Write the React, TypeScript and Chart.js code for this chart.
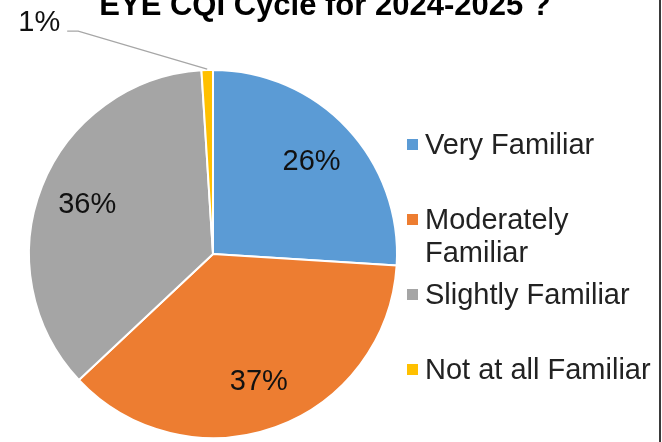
import React, { useEffect, useRef } from "react";
import { Chart, registerables } from "chart.js";

Chart.register(...registerables);

const titleText = "EYE CQI Cycle for 2024-2025 ?";
const categories = ["Very Familiar", "Moderately\nFamiliar", "Slightly Familiar", "Not at all Familiar"];
const percentValues = [26, 37, 36, 1];
const sliceColors = ["#5B9BD5", "#ED7D31", "#A5A5A5", "#FFC000"];

const FONT = "'Liberation Sans', Arial, sans-serif";

const decorPlugin = {
  id: "decor",
  afterDatasetsDraw(chart: any) {
    const ctx = chart.ctx;
    const meta = chart.getDatasetMeta(0);
    const data = chart.data.datasets[0].data as number[];
    ctx.save();
    // data labels
    ctx.font = `29px ${FONT}`;
    ctx.fillStyle = "#111";
    meta.data.forEach((arc: any, i: number) => {
      const { x, y, startAngle, endAngle, outerRadius } = arc.getProps(
        ["x", "y", "startAngle", "endAngle", "outerRadius"],
        true
      );
      const mid = (startAngle + endAngle) / 2;
      const txt = `${data[i]}%`;
      if (data[i] >= 5) {
        const r = outerRadius * 0.735;
        ctx.textAlign = "center";
        ctx.textBaseline = "middle";
        ctx.fillText(txt, x + Math.cos(mid) * r, y + Math.sin(mid) * r + 1);
      } else {
        const px = x + Math.cos(mid) * (outerRadius + 1);
        const py = y + Math.sin(mid) * (outerRadius + 1);
        const kx = px - 129;
        const ky = py - 38;
        ctx.strokeStyle = "#A6A6A6";
        ctx.lineWidth = 1.2;
        ctx.beginPath();
        ctx.moveTo(px, py);
        ctx.lineTo(kx, ky);
        ctx.lineTo(kx - 11, ky);
        ctx.stroke();
        ctx.textAlign = "right";
        ctx.textBaseline = "alphabetic";
        ctx.fillText(txt, kx - 18, ky);
      }
    });
    // title (partially cut at top)
    ctx.font = `bold 31px ${FONT}`;
    ctx.textAlign = "center";
    ctx.textBaseline = "alphabetic";
    ctx.fillStyle = "#000";
    ctx.fillText(titleText, 325, 15);
    // legend
    ctx.font = `29px ${FONT}`;
    ctx.textAlign = "left";
    (chart.data.labels as string[]).forEach((lab: string, i: number) => {
      const base = 154 + 75 * i;
      ctx.fillStyle = sliceColors[i];
      ctx.fillRect(407, base - 15, 11, 11);
      ctx.fillStyle = "#222";
      lab.split("\n").forEach((line, j) => {
        ctx.fillText(line, 425, base + 33 * j);
      });
    });
    // right border
    ctx.fillStyle = "#3a3a3a";
    ctx.fillRect(659, 0, 2, chart.height);
    ctx.restore();
  },
};

export default function App() {
  const ref = useRef<HTMLCanvasElement | null>(null);
  useEffect(() => {
    document.body.style.margin = "0";
    const canvas = ref.current!;
    const chart = new Chart(canvas, {
      type: "pie",
      data: {
        labels: categories,
        datasets: [
          {
            data: percentValues,
            backgroundColor: sliceColors,
            borderColor: "#ffffff",
            borderWidth: 2,
          },
        ],
      },
      options: {
        responsive: false,
        animation: false,
        radius: 184,
        layout: { padding: { left: 29, right: 265, top: 70, bottom: 4 } },
        plugins: {
          legend: { display: false },
          title: { display: false },
          tooltip: { enabled: false },
        },
      } as any,
      plugins: [decorPlugin],
    });
    return () => chart.destroy();
  }, []);
  return (
    <div style={{ width: 662, height: 442, background: "#fff" }}>
      <canvas ref={ref} width={662} height={442} style={{ display: "block" }} />
    </div>
  );
}
